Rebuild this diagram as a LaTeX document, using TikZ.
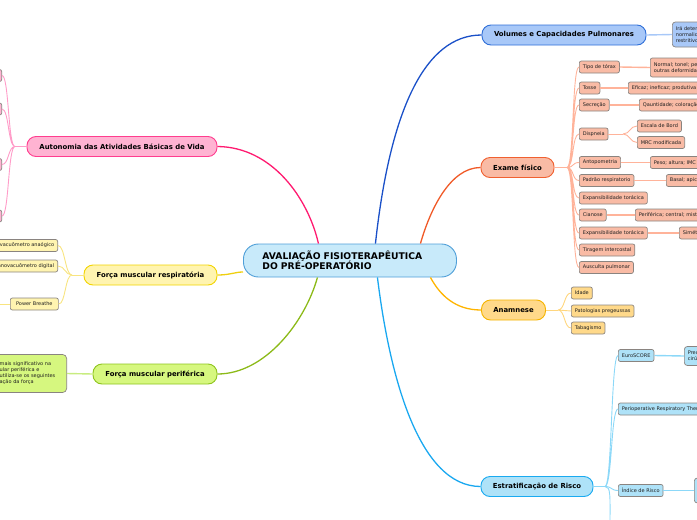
\documentclass[tikz,border=0pt]{standalone}
\usepackage{fontspec}
\setmainfont{DejaVu Sans}
\usepackage{tikz}
\usetikzlibrary{positioning}
\definecolor{rootfill}{HTML}{C8EAFA}
\definecolor{rootedge}{HTML}{4F9FD8}
\definecolor{pinkfill}{HTML}{FFB3D2}
\definecolor{pinkedge}{HTML}{FF3D8F}
\definecolor{pinkline}{HTML}{FF1A70}
\definecolor{pinktwig}{HTML}{FF9CC8}
\definecolor{yelfill}{HTML}{FFF4B0}
\definecolor{yeledge}{HTML}{F2D400}
\definecolor{yelline}{HTML}{EFCF10}
\definecolor{yeltwig}{HTML}{F8E480}
\definecolor{grnfill}{HTML}{D6F77F}
\definecolor{grnedge}{HTML}{8EC41E}
\definecolor{grnline}{HTML}{8CBA18}
\definecolor{grntwig}{HTML}{C8EC80}
\definecolor{volfill}{HTML}{A8C8F8}
\definecolor{voledge}{HTML}{2F6FD8}
\definecolor{volline}{HTML}{1A50C8}
\definecolor{voltwig}{HTML}{A8C8F8}
\definecolor{exfill}{HTML}{F9BBA5}
\definecolor{exedge}{HTML}{F06030}
\definecolor{exline}{HTML}{F05A28}
\definecolor{extwig}{HTML}{FFB39A}
\definecolor{anfill}{HTML}{FFD98A}
\definecolor{anedge}{HTML}{F5B400}
\definecolor{anline}{HTML}{FFB400}
\definecolor{antwig}{HTML}{FFD67E}
\definecolor{skyfill}{HTML}{AEE2F8}
\definecolor{skyedge}{HTML}{1AAAF0}
\definecolor{skyline}{HTML}{1AA8F0}
\definecolor{skytwig}{HTML}{8CD8F8}
\definecolor{subgray}{HTML}{8A8480}

\begin{document}
\begin{tikzpicture}[x=1pt, y=-1pt,
    main/.style={draw, line width=0.9pt, rounded corners=9pt, minimum height=20pt,
                 inner sep=0pt, font=\fontsize{6.9}{8}\selectfont\bfseries},
    sub/.style={draw=subgray, line width=0.7pt, rounded corners=2pt, minimum height=12pt,
                inner xsep=3.5pt, inner ysep=0pt, anchor=west, align=left,
                text=black!88, font=\fontsize{5}{6}\selectfont},
    trunk/.style={line width=1.3pt},
    twig/.style={line width=0.9pt},
    leaf/.style={line width=1.4pt},
    fan/.style={out=0, in=180, distance=7pt},
    fanl/.style={out=180, in=0, distance=7pt}]
  \clip (0,0) rectangle (697,520);
  \useasboundingbox (0,0) rectangle (697,520);

  \node[draw=rootedge, fill=rootfill, line width=0.9pt, rounded corners=15pt, anchor=west,
        minimum height=33pt, text width=175pt, inner xsep=19pt, inner ysep=0pt, align=left,
        font=\fontsize{9.2}{10.5}\selectfont\bfseries] (root) at (243,260.5)
        {AVALIAÇÃO FISIOTERAPÊUTICA\\DO PRÉ-OPERATÓRIO};

  \node[main, fill=pinkfill, draw=pinkedge, minimum width=190pt] (abvd) at (122,146.5) {Autonomia das Atividades Básicas de Vida};
  \node[main, fill=yelfill, draw=yeledge, minimum width=133pt] (fresp) at (150.5,275) {Força muscular respiratória};
  \node[main, fill=grnfill, draw=grnedge, minimum width=124pt] (fperi) at (155,374) {Força muscular periférica};
  \node[main, fill=volfill, draw=voledge, minimum width=164pt] (vol) at (564,35) {Volumes e Capacidades Pulmonares};
  \node[main, fill=exfill, draw=exedge, minimum width=73pt] (exame) at (517.5,167.5) {Exame físico};
  \node[main, fill=anfill, draw=anedge, minimum width=64pt] (anam) at (513.5,310) {Anamnese};
  \node[main, fill=skyfill, draw=skyedge, minimum width=112pt] (risco) at (537,486.5) {Estratificação de Risco};

  \draw[trunk, pinkline] (abvd.east) .. controls (272,147) and (308,198) .. ([xshift=-31.5pt]root.north);
  \draw[trunk, volline] (vol.west) .. controls (425,35) and (390,110) .. ([xshift=25.5pt]root.north);
  \draw[trunk, exline] (exame.west) .. controls (450,167.5) and (430,210) .. ([xshift=70.5pt]root.north);
  \draw[trunk, yelline] (fresp.east) .. controls (230,275) and (235,272) .. ([yshift=-11.5pt]root.west);
  \draw[trunk, grnline] (fperi.east) .. controls (265,374) and (305,322) .. ([xshift=-32.5pt]root.south);
  \draw[trunk, skyline] (risco.west) .. controls (420,486.5) and (390,380) .. ([xshift=27.5pt]root.south);
  \draw[trunk, anline] (anam.west) .. controls (455,310) and (440,295) .. ([xshift=80.5pt]root.south);

  % autonomia
  \coordinate (abvdj) at (15,146.5);
  \node[sub, fill=pinkfill, anchor=east, minimum width=40pt] (abvd1) at (2,75.5) {};
  \node[sub, fill=pinkfill, anchor=east, minimum width=40pt] (abvd2) at (2,109) {};
  \node[sub, fill=pinkfill, anchor=east, minimum width=40pt] (abvd3) at (2,164.5) {};
  \node[sub, fill=pinkfill, anchor=east, minimum width=40pt] (abvd4) at (2,216) {};
  \draw[twig, pinktwig] (abvd.west) -- (abvdj);
  \draw[twig, pinktwig] (abvdj) to[fanl] (abvd1.east) (abvdj) to[fanl] (abvd2.east)
    (abvdj) to[fanl] (abvd3.east) (abvdj) to[fanl] (abvd4.east);

  % forca respiratoria
  \coordinate (frespj) at (72,275);
  \node[sub, fill=yelfill, anchor=east] (mano1) at (58,245.5) {Manovacuômetro anaógico};
  \node[sub, fill=yelfill, anchor=east] (mano2) at (58,266) {Manovacuômetro digital};
  \node[sub, fill=yelfill, minimum width=48pt, align=center] (pwb) at (10,304) {Power Breathe};
  \coordinate (pwbout) at (-5,304);
  \draw[twig, yeltwig] (fresp.west) -- (frespj);
  \draw[twig, yeltwig] (frespj) to[fanl] (mano1.east) (frespj) to[fanl] (mano2.east)
    (frespj) to[fanl] (pwb.east);
  \draw[twig, yeltwig] (pwb.west) -- (pwbout);

  % forca periferica
  \node[sub, fill=grnfill, anchor=east, text width=62pt, inner xsep=5pt, minimum height=38pt,
        rounded corners=4pt] (fperi1) at (67,373.5)
        {mais significativo na\\ular periférica e\\utiliza-se os seguintes\\ação da força};
  \draw[leaf, grntwig] (fperi1.east) -- (fperi.west);

  % volumes
  \node[sub, fill=volfill, minimum height=25pt, rounded corners=3pt] (vol1) at (672,34.5)
        {Irá determinar\\normalidade\\restritivo};
  \draw[leaf, voltwig] (vol.east) -- (vol1.west);

  % exame fisico
  \coordinate (examej) at (567,167.5);
  \node[sub, fill=exfill] (tipo)  at (579,67)    {Tipo de tórax};
  \node[sub, fill=exfill] (tosse) at (579,88)    {Tosse};
  \node[sub, fill=exfill] (secr)  at (579,105)   {Secreção};
  \node[sub, fill=exfill] (disp)  at (579,134)   {Dispneia};
  \node[sub, fill=exfill] (antro) at (579,162.5) {Antopometria};
  \node[sub, fill=exfill] (padr)  at (579,180.5) {Padrão respiratorio};
  \node[sub, fill=exfill] (expa)  at (579,198)   {Expansibilidade torácica};
  \node[sub, fill=exfill] (cian)  at (579,215)   {Cianose};
  \node[sub, fill=exfill] (expb)  at (579,233)   {Expansibilidade torácica};
  \node[sub, fill=exfill] (tira)  at (579,250)   {Tiragem intercostal};
  \node[sub, fill=exfill] (ausc)  at (579,267.5) {Ausculta pulmonar};
  \draw[twig, extwig] (exame.east) -- (examej);
  \draw[twig, extwig] (examej) to[fan] (tipo.west) (examej) to[fan] (tosse.west)
    (examej) to[fan] (secr.west) (examej) to[fan] (disp.west)
    (examej) to[fan] (antro.west) (examej) to[fan] (padr.west)
    (examej) to[fan] (expa.west) (examej) to[fan] (cian.west)
    (examej) to[fan] (expb.west) (examej) to[fan] (tira.west)
    (examej) to[fan] (ausc.west);

  \node[sub, fill=exfill, minimum height=19pt] (tipo1) at (650,67.5) {Normal; tonel; pectus;\\outras deformidades};
  \node[sub, fill=exfill] (tosse1) at (628,88)    {Eficaz; ineficaz; produtiva};
  \node[sub, fill=exfill] (secr1)  at (639,105)   {Qauntidade; coloração};
  \node[sub, fill=exfill] (disp1)  at (637,126)   {Escala de Bord};
  \node[sub, fill=exfill] (disp2)  at (637,142.5) {MRC modificada};
  \node[sub, fill=exfill] (antro1) at (650,162.5) {Peso; altura; IMC};
  \node[sub, fill=exfill] (padr1)  at (666,180.5) {Basal; apical};
  \node[sub, fill=exfill] (cian1)  at (635,215)   {Periférica; central; mista};
  \node[sub, fill=exfill] (expb1)  at (679,233)   {Simétrica};
  \coordinate (dispj) at (623,134);
  \draw[leaf, extwig] (tipo.east) -- (tipo1.west);
  \draw[leaf, extwig] (tosse.east) -- (tosse1.west);
  \draw[leaf, extwig] (secr.east) -- (secr1.west);
  \draw[leaf, extwig] (antro.east) -- (antro1.west);
  \draw[leaf, extwig] (padr.east) -- (padr1.west);
  \draw[leaf, extwig] (cian.east) -- (cian1.west);
  \draw[leaf, extwig] (expb.east) -- (expb1.west);
  \draw[twig, extwig] (disp.east) -- (dispj);
  \draw[twig, extwig] (dispj) to[fan] (disp1.west) (dispj) to[fan] (disp2.west);

  % anamnese
  \coordinate (anamj) at (558,310);
  \node[sub, fill=anfill] (idade) at (571,293) {Idade};
  \node[sub, fill=anfill] (pato)  at (571,311) {Patologias pregeussas};
  \node[sub, fill=anfill] (taba)  at (571,328) {Tabagismo};
  \draw[twig, antwig] (anam.east) -- (anamj);
  \draw[twig, antwig] (anamj) to[fan] (idade.west) (anamj) to[fan] (pato.west)
    (anamj) to[fan] (taba.west);

  % estratificacao
  \coordinate (riscoj) at (605,486.5);
  \coordinate (riscob) at (610,530);
  \node[sub, fill=skyfill] (euro) at (618,355.5) {EuroSCORE};
  \node[sub, fill=skyfill] (peri) at (618,409)   {Perioperative Respiratory Therapy};
  \node[sub, fill=skyfill] (indi) at (618,490.5) {Índice de Risco};
  \node[sub, fill=skyfill, minimum height=19pt, rounded corners=3pt] (euro1) at (684,356) {Prediz risco\\cirúrgico};
  \node[sub, fill=skyfill, minimum height=25pt, minimum width=30pt, rounded corners=3pt] (indi1) at (694,490.5) {};
  \draw[twig, skytwig] (risco.east) -- (riscoj);
  \draw[twig, skytwig] (riscoj) to[fan] (euro.west) (riscoj) to[fan] (peri.west)
    (riscoj) to[fan] (indi.west);
  \draw[twig, skytwig] (riscoj) .. controls (611,486.5) and (610,495) .. (riscob);
  \draw[leaf, skytwig] (euro.east) -- (euro1.west);
  \draw[leaf, skytwig] (indi.east) -- (indi1.west);
\end{tikzpicture}
\end{document}
